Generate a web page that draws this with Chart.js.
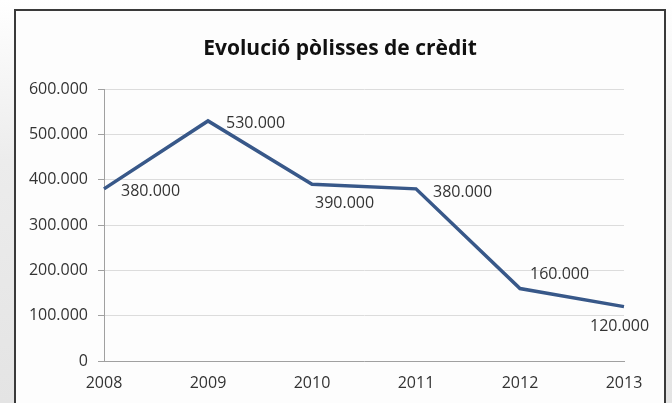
<!DOCTYPE html>
<html>
<head>
<meta charset="utf-8">
<script src="https://cdn.jsdelivr.net/npm/chart.js@4"></script>
<style>
  html, body { margin: 0; padding: 0; width: 672px; height: 403px; overflow: hidden; }
  body { background: linear-gradient(to bottom, #ffffff 0%, #ececec 40%, #e4e4e4 100%); position: relative; }
  .frame { position: absolute; left: 14px; top: 9px; width: 648px; height: 400px; border: 2px solid #3a3a3a; background: #fdfdfd; }
  #wrap { position: absolute; left: 0; top: 0; width: 672px; height: 403px; }
</style>
</head>
<body>
<div class="frame"></div>
<div id="wrap"><canvas id="chart"></canvas></div>
<script>
const years = ['2008', '2009', '2010', '2011', '2012', '2013'];
const polisses = [380000, 530000, 390000, 380000, 160000, 120000];
const yTicks = [0, 100000, 200000, 300000, 400000, 500000, 600000];

// label offsets from each point (style only)
const labelDx = [17, 18, 3, 17, 10, -34];
const labelDy = [3, 3, 19, 4, -14, 20];

const fmt = v => v === 0 ? '0' : v.toLocaleString('de-DE');

const pointLabels = {
  id: 'pointLabels',
  afterDatasetsDraw(chart) {
    const ctx = chart.ctx;
    const meta = chart.getDatasetMeta(0);
    ctx.save();
    ctx.font = '16px "Open Sans"';
    ctx.fillStyle = '#333';
    ctx.textBaseline = 'middle';
    ctx.textAlign = 'left';
    meta.data.forEach((pt, i) => {
      ctx.fillText(fmt(polisses[i]), pt.x + labelDx[i], pt.y + labelDy[i]);
    });
    ctx.restore();
  }
};

new Chart(document.getElementById('chart').getContext('2d'), {
  type: 'line',
  data: {
    labels: years,
    datasets: [{
      data: polisses,
      borderColor: '#385889',
      borderWidth: 3.5,
      pointRadius: 0,
      tension: 0,
      fill: false
    }]
  },
  options: {
    responsive: true,
    maintainAspectRatio: false,
    animation: false,
    layout: { padding: { left: 8, right: 0, top: 0, bottom: 0 } },
    plugins: {
      legend: { display: false },
      tooltip: { enabled: false },
      title: {
        display: true,
        text: 'Evolució pòlisses de crèdit',
        color: '#111',
        font: { family: '"Open Sans"', size: 21, weight: 'bold' },
        padding: { top: 36, bottom: 28 }
      }
    },
    scales: {
      x: {
        offset: false,
        grid: { display: false, drawOnChartArea: false, tickLength: 5, color: '#a0a0a0' },
        border: { color: '#a0a0a0', width: 1 },
        ticks: { color: '#333', font: { family: '"Open Sans"', size: 16 }, padding: 8, maxRotation: 0 },
        afterFit: s => { s.height = 42; }
      },
      y: {
        min: 0,
        max: 600000,
        afterBuildTicks: s => { s.ticks = yTicks.map(v => ({ value: v })); },
        grid: { color: '#dcdcdc', lineWidth: 1, tickLength: 6, tickColor: '#a0a0a0' },
        border: { color: '#a0a0a0', width: 1 },
        ticks: { color: '#333', font: { family: '"Open Sans"', size: 16 }, padding: 10, callback: v => fmt(v) },
        afterFit: s => { s.width = 96; }
      },
      // empty right-hand axis, only reserves room to the right of 2013
      yRight: {
        position: 'right',
        display: true,
        grid: { display: false },
        border: { display: false },
        ticks: { display: false },
        afterFit: s => { s.width = 48; }
      }
    }
  },
  plugins: [pointLabels]
});
</script>
</body>
</html>
